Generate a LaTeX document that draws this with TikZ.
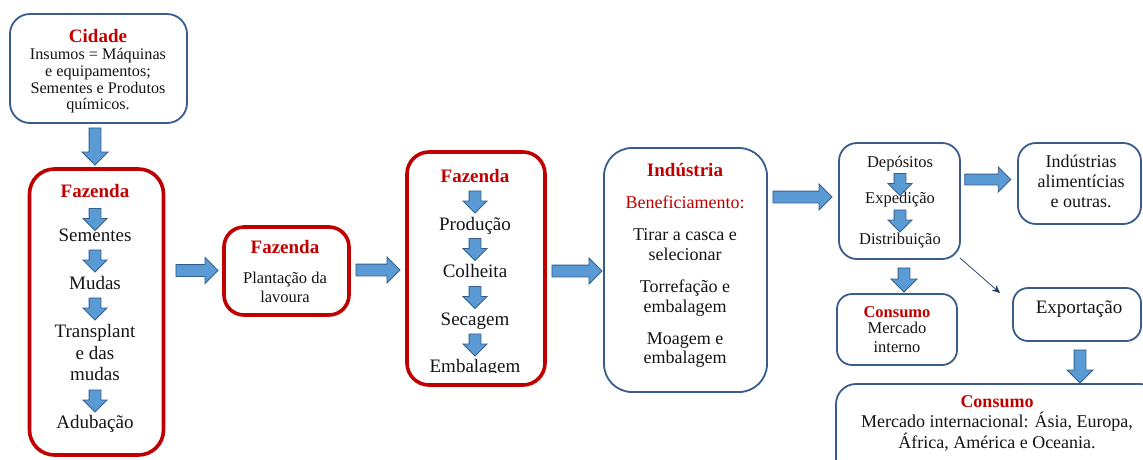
\documentclass[tikz,border=0pt]{standalone}
\usepackage{fontspec}
\setmainfont{Liberation Serif}
\usetikzlibrary{shapes.arrows,arrows.meta}
\definecolor{boxred}{RGB}{192,0,0}
\definecolor{boxblue}{RGB}{56,93,138}
\definecolor{arrfill}{RGB}{91,155,213}
\definecolor{arrline}{RGB}{52,94,140}
\definecolor{navyline}{RGB}{31,56,100}
\definecolor{txt}{RGB}{20,20,20}
\newcommand\fbig{\fontsize{19}{22}\selectfont}
\newcommand\fmid{\fontsize{18}{20}\selectfont}
\newcommand\fsmall{\fontsize{16.5}{18}\selectfont}
\newcommand\fcid{\fontsize{16.2}{17}\selectfont}
\begin{document}
\begin{tikzpicture}[x=1pt,y=-1pt,
  box/.style={rectangle, inner sep=0pt, fill=white},
  redbox/.style={box, draw=boxred, line width=3.6pt},
  bluebox/.style={box, draw=boxblue, line width=1.8pt},
  barrow/.style={single arrow, draw=arrline, fill=arrfill, line width=0.9pt,
    inner xsep=0pt, minimum width=1pt, single arrow head indent=0pt},
  bigarrow/.style={barrow, inner ysep=5.5pt, single arrow head extend=7pt},
  smallarrow/.style={barrow, inner ysep=5.5pt, single arrow head extend=6pt, rotate=-90, minimum height=22pt},
  lbl/.style={anchor=base, inner sep=0pt, text=txt},
  ttl/.style={anchor=base, inner sep=0pt, text=boxred, font=\bfseries\fbig},
]
\clip (0,0) rectangle (1143,459);
\fill[white] (0,0) rectangle (1143,459);

% ---------- boxes ----------
\node[bluebox, rounded corners=20pt, minimum width=177pt, minimum height=109pt] (cidade) at (98.5,68.5) {};
\node[redbox, rounded corners=25pt, minimum width=134pt, minimum height=286pt] (faz1) at (96.5,312) {};
\node[redbox, rounded corners=20pt, minimum width=125pt, minimum height=88pt] (faz2) at (286.5,271) {};
\node[redbox, rounded corners=22pt, minimum width=138pt, minimum height=233pt] (faz3) at (476,268.5) {};
\node[bluebox, rounded corners=28pt, minimum width=163pt, minimum height=244pt] (ind) at (685.5,270) {};
\node[bluebox, rounded corners=18pt, minimum width=121pt, minimum height=116pt] (dist) at (899.5,201) {};
\node[bluebox, rounded corners=18pt, minimum width=123pt, minimum height=81pt] (alim) at (1079.5,183.5) {};
\node[bluebox, rounded corners=15pt, minimum width=120pt, minimum height=71pt] (cint) at (897,329.5) {};
\node[bluebox, rounded corners=15pt, minimum width=128pt, minimum height=53pt] (exp) at (1077,314.5) {};
\node[bluebox, rounded corners=20pt, minimum width=324pt, minimum height=106pt] (cext) at (998,437) {};

% ---------- Cidade ----------
\node[lbl, text=boxred, font=\bfseries\fbig] (cidt) at (98,42) {Cidade};
\node[lbl, font=\fcid] (cid1) at (98,59) {Insumos = Máquinas};
\node[lbl, font=\fcid] (cid2) at (98,76) {e equipamentos;};
\node[lbl, font=\fcid] (cid3) at (98,93) {Sementes e Produtos};
\node[lbl, font=\fcid] (cid4) at (98,109) {químicos.};

% ---------- Fazenda 1 ----------
\node[ttl] (f1t) at (95,197) {Fazenda};
\node[smallarrow] (f1a1) at (95,216.5) {};
\node[lbl, font=\fbig] (f1s) at (95,241) {Sementes};
\node[smallarrow] (f1a2) at (95,258) {};
\node[lbl, font=\fbig] (f1m) at (95,289) {Mudas};
\node[smallarrow] (f1a3) at (95,306) {};
\node[lbl, font=\fbig] (f1t1) at (95,337) {Transplant};
\node[lbl, font=\fbig] (f1t2) at (95,359) {e das};
\node[lbl, font=\fbig] (f1t3) at (95,380) {mudas};
\node[smallarrow] (f1a4) at (95,398) {};
\node[lbl, font=\fbig] (f1ad) at (95,428) {Adubação};

% ---------- Fazenda 2 ----------
\node[ttl] (f2t) at (285,253) {Fazenda};
\node[lbl, font=\fsmall] (f2a) at (285,283) {Plantação da};
\node[lbl, font=\fsmall] (f2b) at (285,302) {lavoura};

% ---------- Fazenda 3 ----------
\node[ttl] (f3t) at (475,182) {Fazenda};
\node[smallarrow] (f3a1) at (475,199) {};
\node[lbl, font=\fbig] (f3p) at (475,230) {Produção};
\node[smallarrow] (f3a2) at (475,246.5) {};
\node[lbl, font=\fbig] (f3c) at (475,277) {Colheita};
\node[smallarrow] (f3a3) at (475,294.5) {};
\node[lbl, font=\fbig] (f3s) at (475,325) {Secagem};
\node[smallarrow] (f3a4) at (475,342) {};
\begin{scope}
\clip (410,340) rectangle (540,372.5);
\node[lbl, font=\fbig] (f3e) at (475,372) {Embalagem};
\end{scope}

% ---------- Industria ----------
\node[ttl] (indt) at (685,176) {Indústria};
\node[lbl, text=boxred, font=\fmid] (indb) at (685,208) {Beneficiamento:};
\node[lbl, font=\fmid] (ind1) at (685,240) {Tirar a casca e};
\node[lbl, font=\fmid] (ind2) at (685,260) {selecionar};
\node[lbl, font=\fmid] (ind3) at (685,292) {Torrefação e};
\node[lbl, font=\fmid] (ind4) at (685,312) {embalagem};
\node[lbl, font=\fmid] (ind5) at (685,344) {Moagem e};
\node[lbl, font=\fmid] (ind6) at (685,363) {embalagem};

% ---------- Distribuicao ----------
\node[lbl, font=\fsmall] (dep) at (900,167) {Depósitos};
\node[smallarrow] (da1) at (900,181.5) {};
\node[lbl, font=\fsmall] (expd) at (900,203) {Expedição};
\node[smallarrow] (da2) at (900,218) {};
\node[lbl, font=\fsmall] (distr) at (900,244) {Distribuição};

% ---------- Industrias alimenticias ----------
\node[lbl, font=\fmid] (al1) at (1081,167) {Indústrias};
\node[lbl, font=\fmid] (al2) at (1081,187) {alimentícias};
\node[lbl, font=\fmid] (al3) at (1081,207) {e outras.};

% ---------- Consumo interno ----------
\node[lbl, text=boxred, font=\bfseries\fsmall] (cit) at (897,317) {Consumo};
\node[lbl, font=\fsmall] (ci1) at (897,333) {Mercado};
\node[lbl, font=\fsmall] (ci2) at (897,352) {interno};

% ---------- Exportacao ----------
\node[lbl, font=\fbig] (expt) at (1079,313) {Exportação};

% ---------- Consumo externo ----------
\node[lbl, text=boxred, font=\bfseries\fmid] (cet) at (997,407) {Consumo};
\node[lbl, font=\fmid] (ce1) at (997,427) {Mercado internacional: Ásia, Europa,};
\node[lbl, font=\fmid] (ce2) at (997,448) {África, América e Oceania.};

% ---------- block arrows between boxes ----------
\node[bigarrow, rotate=-90, minimum height=37pt] (a0) at (95,143.5) {};
\node[bigarrow, minimum height=42pt] (a1) at (194,270.5) {};
\node[bigarrow, minimum height=44pt] (a2) at (375,270) {};
\node[bigarrow, minimum height=50pt] (a3) at (574,271) {};
\node[bigarrow, minimum height=59pt] (a4) at (799.5,197) {};
\node[bigarrow, inner ysep=5pt, minimum height=46pt] (a5) at (985,179.5) {};
\node[bigarrow, rotate=-90, minimum height=24pt] (a6) at (904,277) {};
\node[bigarrow, rotate=-90, minimum height=33pt] (a7) at (1080,363.5) {};

% ---------- thin arrow ----------
\coordinate (tipexp) at (1000,293);
\draw[navyline, line width=0.7pt, -{Stealth[length=8pt,width=7pt]}] ([shift={(-1pt,2pt)}]dist.south east) -- (tipexp);
\end{tikzpicture}
\end{document}
